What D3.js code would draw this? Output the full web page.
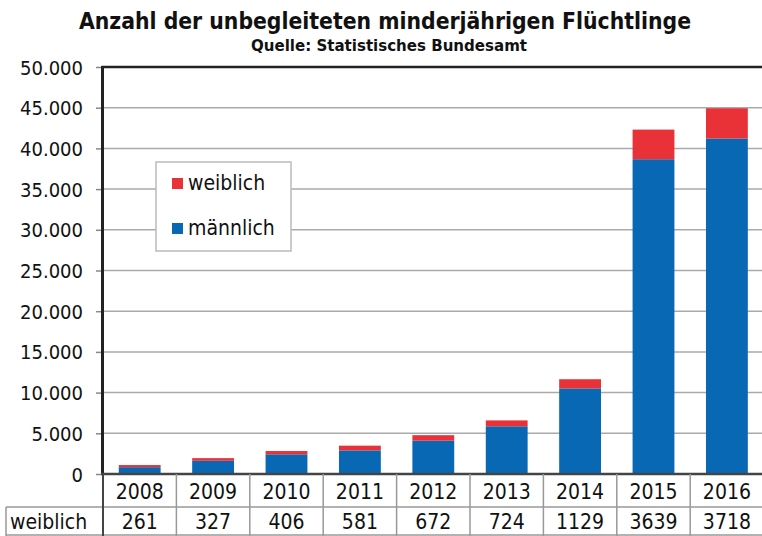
<!DOCTYPE html>
<html><head><meta charset="utf-8">
<script src="https://cdn.jsdelivr.net/npm/d3@7"></script>
<style>body{margin:0;background:#fff}svg{display:block}text{font-family:"DejaVu Sans",sans-serif;fill:#111}</style>
</head><body><svg id="c" width="762" height="536"></svg>
<script>
const years = ["2008","2009","2010","2011","2012","2013","2014","2015","2016"];
const weiblich = [261,327,406,581,672,724,1129,3639,3718];
const maennlich = [839,1622,2416,2901,4095,5860,10513,38670,41217];
const yTicks = [0,5000,10000,15000,20000,25000,30000,35000,40000,45000,50000];
const seriesNames = ["weiblich","männlich"];
const colors = {weiblich:"#e83237", "männlich":"#0868b4"};

const svg = d3.select("#c");
const x0 = 103, x1 = 763.6, yTop = 67, yBot = 474;
const x = d3.scaleBand().domain(years).range([x0,x1]).paddingInner(0.43).paddingOuter(0.215);
const y = d3.scaleLinear().domain([0,50000]).range([yBot,yTop]);
const fmt = v => d3.format(",")(v).replace(/,/g,".");
const condensed = "'DejaVu Sans Condensed','DejaVu Sans',sans-serif";

// title
svg.append("text").attr("x",385).attr("y",29).attr("text-anchor","middle")
  .style("font-size","23px").style("font-weight","bold").style("font-family",condensed)
  .attr("textLength",612).attr("lengthAdjust","spacingAndGlyphs")
  .text("Anzahl der unbegleiteten minderjährigen Flüchtlinge");
svg.append("text").attr("x",389).attr("y",51).attr("text-anchor","middle")
  .style("font-size","15px").style("font-weight","bold").style("font-family",condensed)
  .attr("textLength",276).attr("lengthAdjust","spacingAndGlyphs")
  .text("Quelle: Statistisches Bundesamt");

// gridlines
svg.append("g").selectAll("line").data(yTicks.filter(d=>d>0&&d<50000)).join("line")
  .attr("x1",x0).attr("x2",762).attr("y1",d=>y(d)).attr("y2",d=>y(d))
  .attr("stroke","#aaa").attr("stroke-width",1.5);

// y axis
const ya = svg.append("g").attr("transform",`translate(${x0},0)`)
  .call(d3.axisLeft(y).tickValues(yTicks).tickFormat(fmt).tickSize(7).tickPadding(13));
ya.select(".domain").remove();
ya.selectAll(".tick line").attr("stroke","#888").attr("stroke-width",1.5);
ya.selectAll(".tick text").style("font-size","20px").style("font-family",condensed).attr("fill","#111").attr("dy","0.35em");

// bars
const stack = years.map((yr,i)=>({year:yr, m:maennlich[i], w:weiblich[i]}));
const g = svg.append("g");
g.selectAll("rect.m").data(stack).join("rect").attr("class","m")
  .attr("x",d=>x(d.year)).attr("width",x.bandwidth())
  .attr("y",d=>y(d.m)).attr("height",d=>y(0)-y(d.m)).attr("fill",colors["männlich"]);
g.selectAll("rect.w").data(stack).join("rect").attr("class","w")
  .attr("x",d=>x(d.year)).attr("width",x.bandwidth())
  .attr("y",d=>y(d.m+d.w)).attr("height",d=>y(d.m)-y(d.m+d.w)).attr("fill",colors.weiblich);

// frame
svg.append("line").attr("x1",x0-1.5).attr("x2",762).attr("y1",yTop).attr("y2",yTop).attr("stroke","#222").attr("stroke-width",2.5);
svg.append("line").attr("x1",x0-0.5).attr("x2",x0-0.5).attr("y1",yTop-1).attr("y2",yBot).attr("stroke","#222").attr("stroke-width",3);
svg.append("line").attr("x1",x0-2).attr("x2",762).attr("y1",yBot).attr("y2",yBot).attr("stroke","#444").attr("stroke-width",2.5);

// table
const step = x.step();
const tb = svg.append("g");
const rowSep = 507, rowBot = 535;
tb.append("line").attr("x1",6).attr("x2",762).attr("y1",rowSep).attr("y2",rowSep).attr("stroke","#999").attr("stroke-width",1.5);
tb.append("line").attr("x1",6).attr("x2",762).attr("y1",rowBot).attr("y2",rowBot).attr("stroke","#999").attr("stroke-width",1.5);
tb.append("line").attr("x1",6).attr("x2",6).attr("y1",rowSep).attr("y2",536).attr("stroke","#999").attr("stroke-width",1.5);
const seps = d3.range(years.length+1).map(k=>x0+k*step);
tb.selectAll("line.sep").data(seps).join("line").attr("class","sep")
  .attr("x1",d=>d).attr("x2",d=>d).attr("y1",yBot).attr("y2",536)
  .attr("stroke",(d,i)=>i===0?"#444":"#999").attr("stroke-width",(d,i)=>i===0?2:1.5);
tb.selectAll("text.yr").data(years).join("text").attr("class","yr")
  .attr("x",d=>x(d)+x.bandwidth()/2).attr("y",499).attr("text-anchor","middle")
  .style("font-size","21px").style("font-family",condensed).text(d=>d);
tb.selectAll("text.wv").data(years).join("text").attr("class","wv")
  .attr("x",d=>x(d)+x.bandwidth()/2).attr("y",529).attr("text-anchor","middle")
  .style("font-size","21px").style("font-family",condensed).text((d,i)=>weiblich[i]);
tb.append("text").attr("x",10).attr("y",529).style("font-size","21px").style("font-family",condensed).text("weiblich");

// legend
const lg = svg.append("g");
lg.append("rect").attr("x",156).attr("y",162).attr("width",135).attr("height",89)
  .attr("fill","#fff").attr("stroke","#bbb").attr("stroke-width",1.5);
const li = [{n:"weiblich",y:178},{n:"männlich",y:223}];
lg.selectAll("rect.k").data(li).join("rect").attr("class","k")
  .attr("x",172).attr("y",d=>d.y).attr("width",11).attr("height",11).attr("fill",d=>colors[d.n]);
lg.selectAll("text").data(li).join("text")
  .attr("x",188).attr("y",d=>d.y+12).style("font-size","21px").style("font-family",condensed).text(d=>d.n);
</script></body></html>
